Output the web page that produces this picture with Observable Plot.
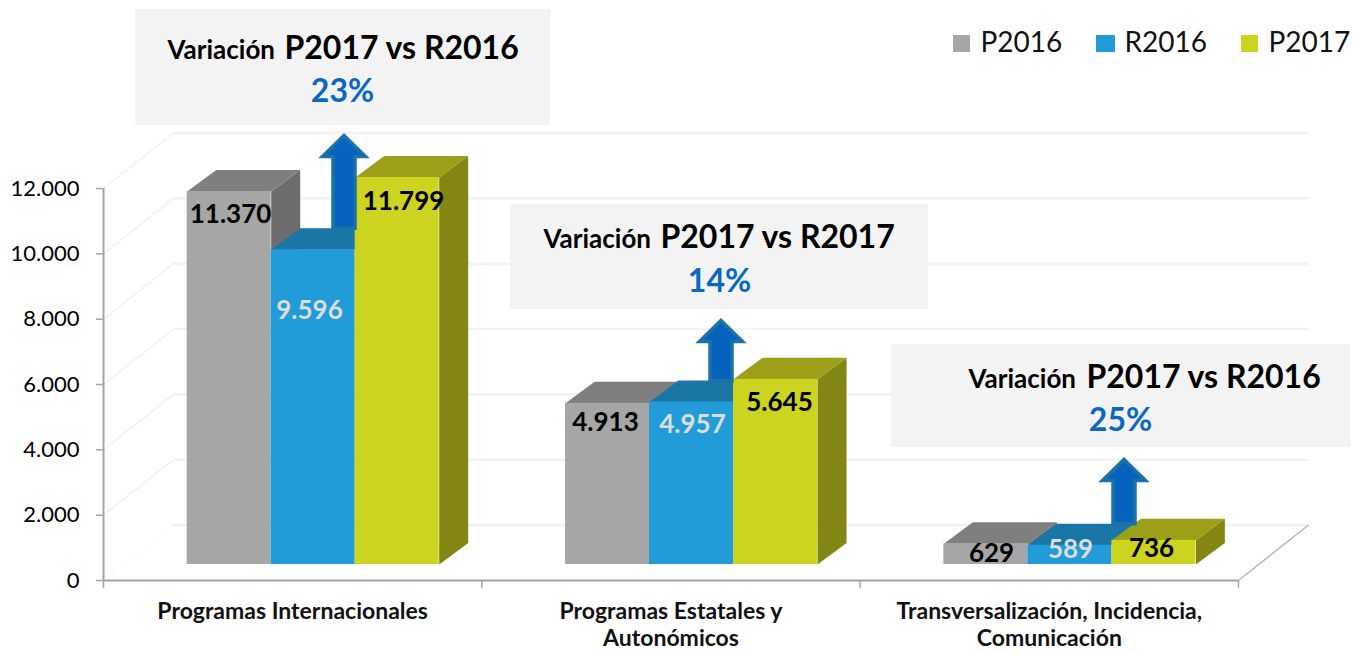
<!DOCTYPE html>
<html lang="es">
<head>
<meta charset="utf-8">
<script src="https://cdn.jsdelivr.net/npm/d3@7"></script>
<script src="https://cdn.jsdelivr.net/npm/@observablehq/plot@0.6"></script>
<style>html,body{margin:0;padding:0;background:#fff}svg{display:block}</style>
</head>
<body>
<div id="chart"></div>
<script>
// ---- data ----
const categories = ["Programas Internacionales", "Programas Estatales y\nAutonómicos", "Transversalización, Incidencia,\nComunicación"];
const seriesNames = ["P2016", "R2016", "P2017"];
const p2016 = [11370, 4913, 629];
const r2016 = [9596, 4957, 589];
const p2017 = [11799, 5645, 736];
const yTicks = [0, 2000, 4000, 6000, 8000, 10000, 12000];
const comparisons = ["P2017 vs R2016", "P2017 vs R2017", "P2017 vs R2016"];
const variations = ["23%", "14%", "25%"];

// ---- styles / layout ----
const FONT = "Lato, 'Open Sans', sans-serif";
const L = 103, R = 1238, T = 188, B = 580, W = 1353, H = 652;
const catPx = (R - L) / 3, valPx = (B - T) / 12000;
const X = px => (px - L) / catPx;           // page position -> x scale value (annotations)
const Y = py => (B - py) / valPx;           // page position -> y scale value (annotations)
const DX = px => px / catPx, DY = px => px / valPx;

const front = ["#a6a6a6", "#219cd9", "#ccd41f"];
const top3d = ["#7f7f7f", "#1a77a5", "#9c9f18"];
const side3d = ["#6d6d6d", "#146080", "#838613"];
const labelColor = ["#000", "#dcdcdc", "#000"];
const values = [p2016, r2016, p2017];

const barStart = DX(83.7), barW = DX(84), barFloor = DY(16), barK = 1.004;
const depthX = DX(29), depthY = DY(21.5);
const wallX = DX(70), wallY = DY(55.5);

const poly = (pts, fill, extra = {}) =>
  Plot.line(pts, {x: d => d[0], y: d => d[1], curve: "linear-closed", fill, stroke: "none", ...extra});

// walls
const marks = [];
marks.push(Plot.link(yTicks.filter(d => d > 0), {x1: 0, y1: d => d, x2: wallX, y2: d => d + wallY, stroke: "#f1f1f1", strokeWidth: 1.5}));
marks.push(Plot.link(yTicks, {x1: wallX, y1: d => d + wallY, x2: 3 + wallX, y2: d => d + wallY, stroke: "#f2f2f2", strokeWidth: 2.5}));
marks.push(Plot.link([0], {x1: 0, y1: 0, x2: wallX, y2: wallY, stroke: "#d8d8d8", strokeWidth: 1, strokeDasharray: "1 10"}));
marks.push(Plot.link([0], {x1: 3, y1: 0, x2: 3 + wallX, y2: wallY, stroke: "#b8b8b8", strokeWidth: 1.5}));

// axes
marks.push(Plot.ruleX([0], {y1: 0, y2: 12000, stroke: "#a3a3a3", strokeWidth: 2}));
marks.push(Plot.ruleY([0], {x1: 0, x2: 3, stroke: "#a3a3a3", strokeWidth: 2}));
marks.push(Plot.ruleX([0, 1, 2, 3], {y1: 0, y2: -DY(8), stroke: "#a3a3a3", strokeWidth: 1.5}));
marks.push(Plot.axisY({ticks: yTicks, tickSize: 7, tickPadding: 17, stroke: "#a3a3a3", strokeWidth: 1.5, fill: "#000", fontSize: 22, fontWeight: 400, label: null,
  tickFormat: d => d3.format(",")(d).replace(/,/g, ".")}));
marks.push(Plot.text(categories, {x: (d, i) => i + 0.5, y: 0, dy: 20, text: d => d, lineAnchor: "top", lineHeight: 1.15, fontSize: 23, fontWeight: 700, fill: "#111"}));

// bars
const tops = [];
categories.forEach((_, c) => {
  seriesNames.forEach((_, s) => {
    const x0 = c + barStart + s * barW, x1 = x0 + barW, y0 = barFloor, y1 = barFloor + values[s][c] * barK;
    marks.push(poly([[x1, y0], [x1 + depthX, y0 + depthY], [x1 + depthX, y1 + depthY], [x1, y1]], side3d[s]));
    marks.push(poly([[x0, y1], [x1, y1], [x1 + depthX, y1 + depthY], [x0 + depthX, y1 + depthY]], top3d[s]));
    marks.push(Plot.rect([0], {x1: x0, x2: x1, y1: y0, y2: y1, fill: front[s], inset: 0}));
    if (s === 1) tops[c] = y1 + depthY;
  });
});

// annotation boxes
const boxes = [[135, 550, 9, 125], [510, 928, 204, 309], [891, 1350, 344, 447]];
marks.push(Plot.rect(boxes, {x1: d => X(d[0]), x2: d => X(d[1]), y1: d => Y(d[3]), y2: d => Y(d[2]), fill: "#f2f2f2", fillOpacity: 0.92}));
const varX = [167, 543, 968], cmpX = [284, 660, 1086], textY = [48, 237, 377], pctX = [342, 719, 1120], pctY = [91, 281, 420];
marks.push(Plot.text(comparisons, {x: (d, i) => X(varX[i]), y: (d, i) => Y(textY[i] + 2), text: () => "Variación", textAnchor: "start", fontSize: 26, fontWeight: 700, fill: "#000"}));
marks.push(Plot.text(comparisons, {x: (d, i) => X(cmpX[i]), y: (d, i) => Y(textY[i]), text: d => d, textAnchor: "start", fontSize: 32, fontWeight: 700, fill: "#000"}));
marks.push(Plot.text(variations, {x: (d, i) => X(pctX[i]), y: (d, i) => Y(pctY[i]), text: d => d, fontSize: 32, fontWeight: 700, fill: "#0b68c1"}));

// arrows
const arrowX = [343.5, 720.5, 1123.5], arrowTip = [135, 320, 459];
arrowX.forEach((cx, i) => {
  const hw = 21.5, sw = 11, headY = arrowTip[i] + 21;
  const base = tops[i];
  marks.push(poly([
    [X(cx), Y(arrowTip[i])], [X(cx + hw), Y(headY)], [X(cx + sw), Y(headY)], [X(cx + sw), base],
    [X(cx - sw), base], [X(cx - sw), Y(headY)], [X(cx - hw), Y(headY)]
  ], "#0563bd", {stroke: "#1b72a6", strokeWidth: 3.5, strokeLinejoin: "miter", strokeMiterlimit: 10}));
});

// value labels
const labelPos = [
  [[230, 214], [309, 310], [403, 201]],
  [[605, 422], [692, 424], [779, 402]],
  [[991, 553], [1070, 549], [1151, 548]]
];
seriesNames.forEach((_, s) => {
  marks.push(Plot.text(categories, {
    x: (d, c) => X(labelPos[c][s][0]), y: (d, c) => Y(labelPos[c][s][1]),
    text: (d, c) => d3.format(",")(values[s][c]).replace(/,/g, "."),
    fontSize: 26, fontWeight: 700, fill: labelColor[s]
  }));
});

// legend
const legendX = [953, 1096, 1241], legendTextX = [980, 1124, 1268];
marks.push(Plot.rect(seriesNames, {x1: (d, i) => X(legendX[i]), x2: (d, i) => X(legendX[i] + (i === 1 ? 19 : 17)), y1: Y(52), y2: Y(35), fill: (d, i) => front[i]}));
marks.push(Plot.text(seriesNames, {x: (d, i) => X(legendTextX[i]), y: Y(42.5), text: d => d, textAnchor: "start", fontSize: 28, fill: "#111"}));

const chart = Plot.plot({
  width: W, height: H,
  marginLeft: L, marginRight: W - R, marginTop: T, marginBottom: H - B,
  style: {fontFamily: FONT, background: "#fff", overflow: "visible"},
  x: {domain: [0, 3], axis: null},
  y: {domain: [0, 12000], axis: null},
  marks
});
document.getElementById("chart").append(chart);
</script>
</body>
</html>
